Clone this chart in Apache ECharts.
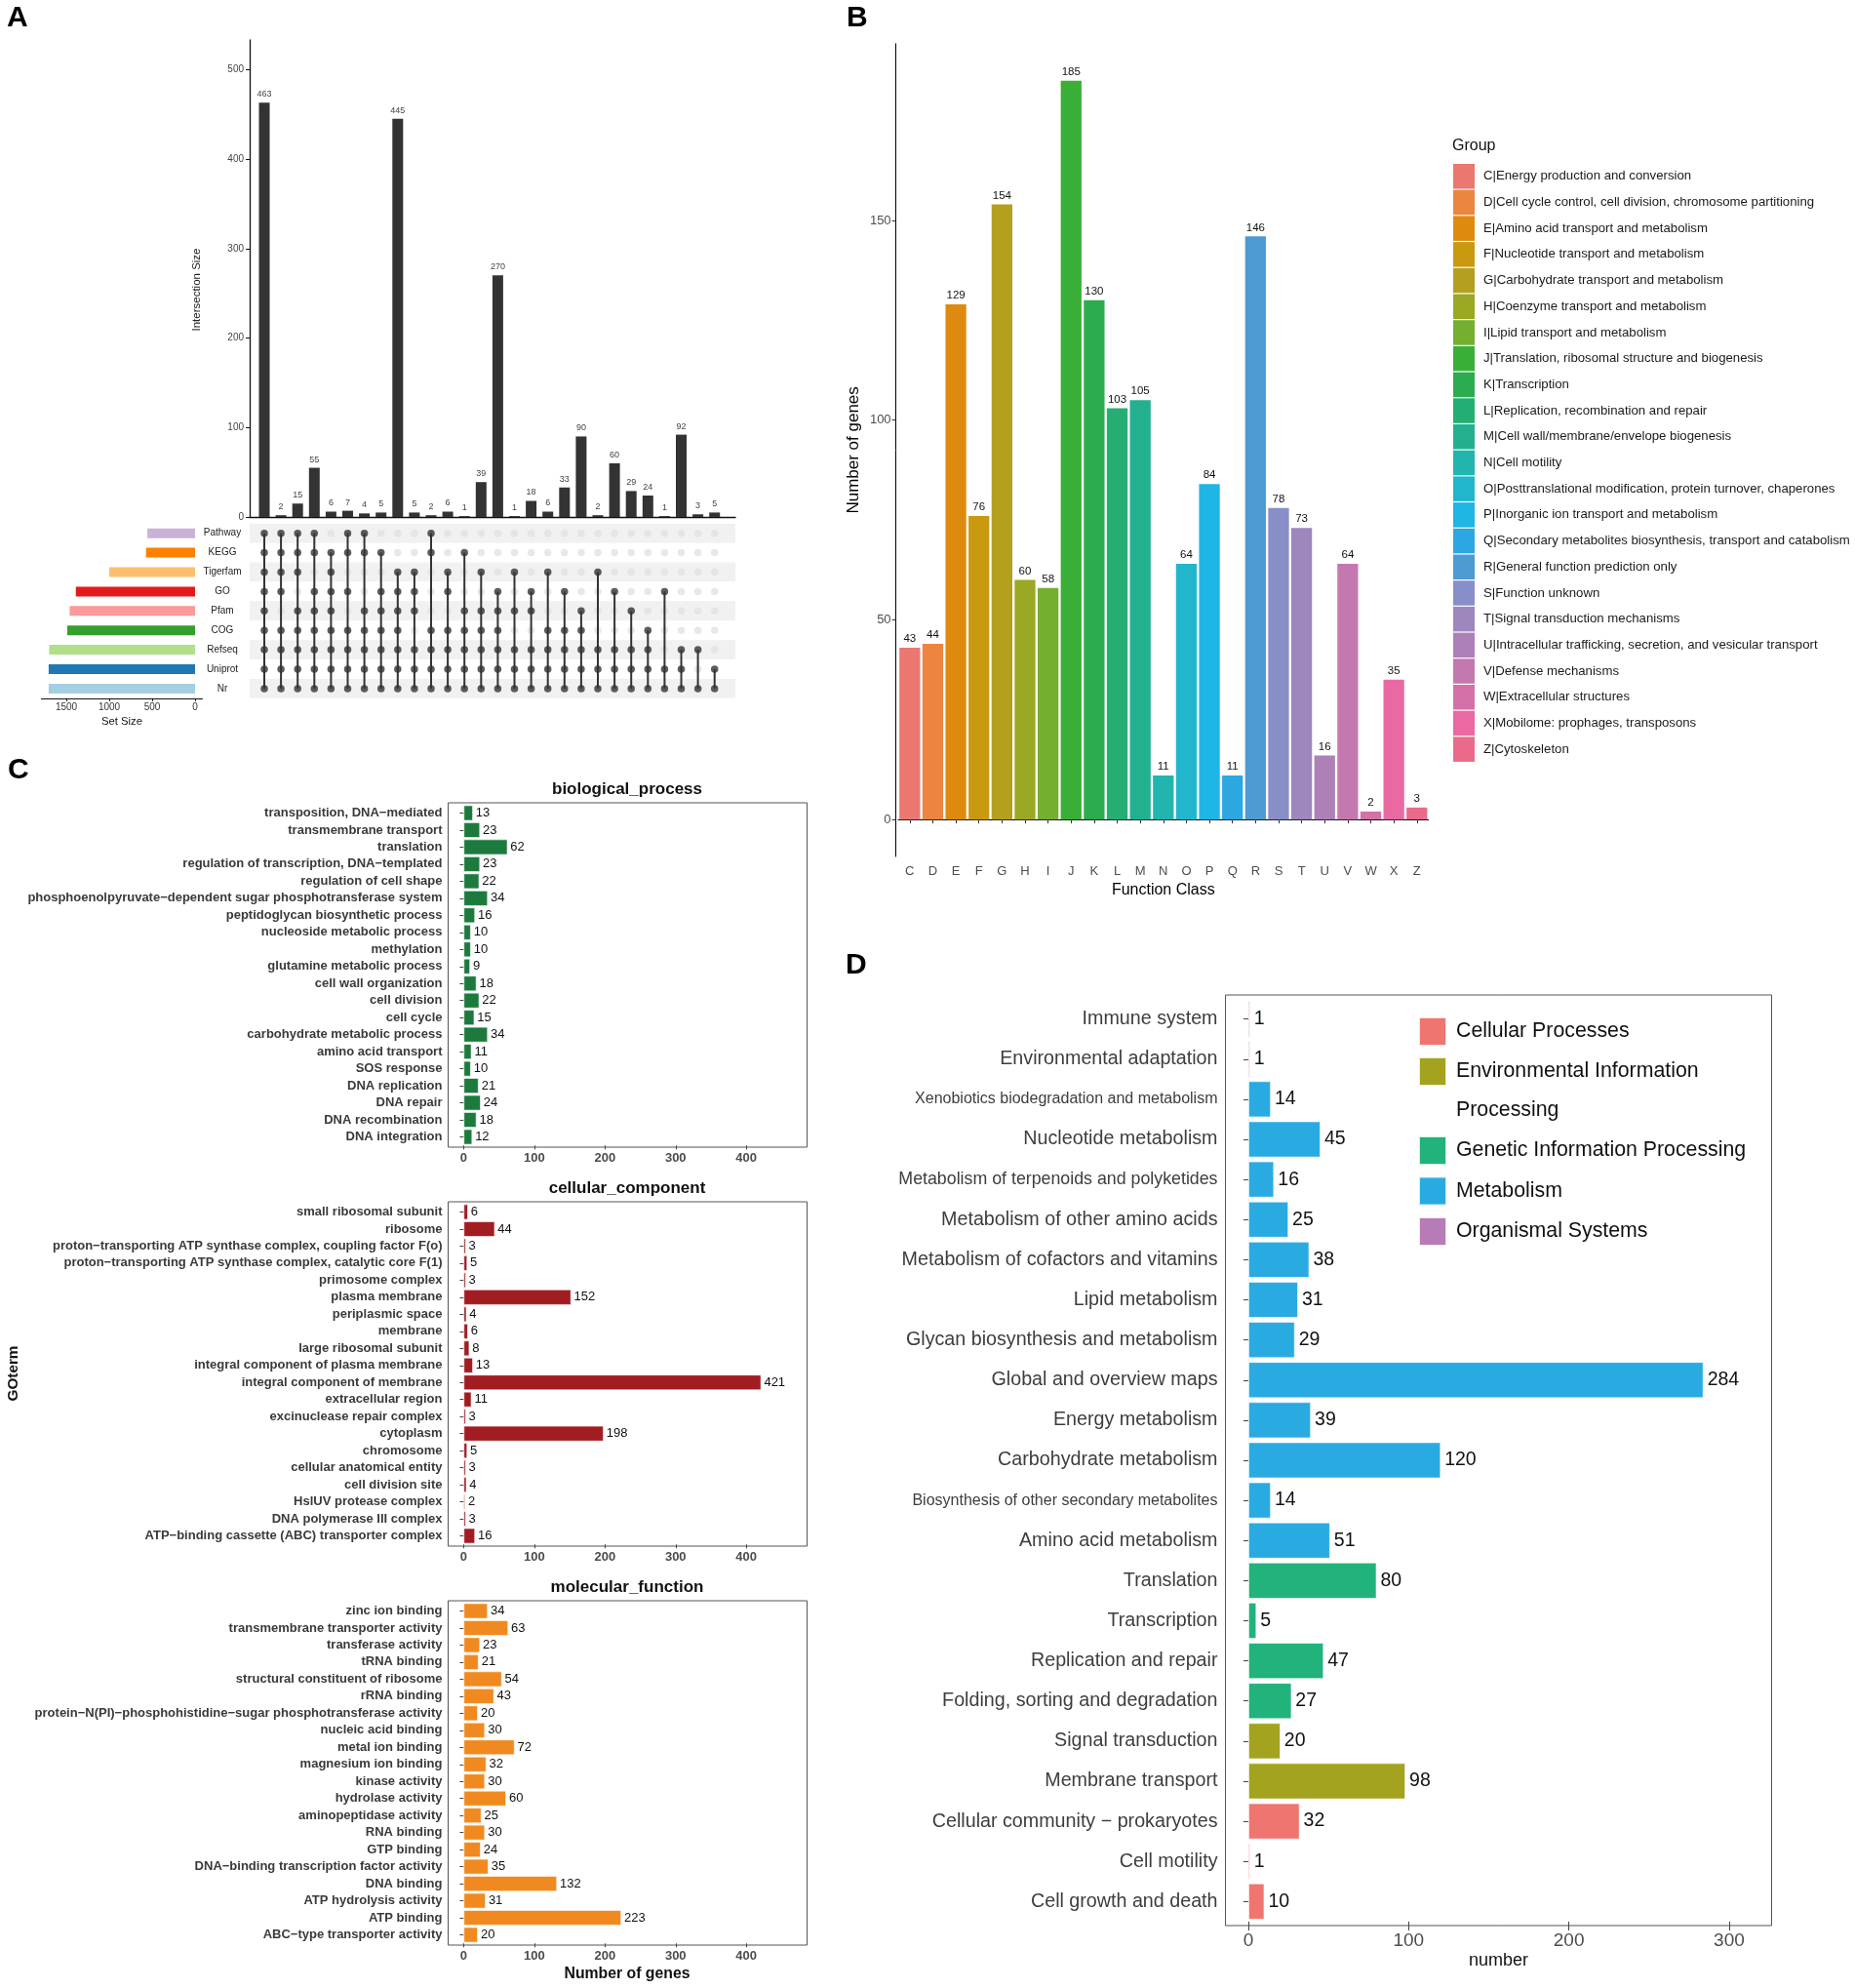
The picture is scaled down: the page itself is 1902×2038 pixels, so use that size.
<!DOCTYPE html>
<html><head><meta charset="utf-8">
<script src="https://cdn.jsdelivr.net/npm/echarts@6/dist/echarts.min.js"></script>
<style>html,body{margin:0;padding:0;background:#fff}#c{width:1902px;height:2038px}</style>
</head><body><div id="c"></div>
<script>
// ---------- Panel A data ----------
const setNames = ['Pathway','KEGG','Tigerfam','GO','Pfam','COG','Refseq','Uniprot','Nr'];
const setSizes = [556,572,1000,1389,1461,1489,1700,1706,1706];
const setTicks = [0,500,1000,1500];
const intersectionSizes = [463,2,15,55,6,7,4,5,445,5,2,6,1,39,270,1,18,6,33,90,2,60,29,24,1,92,3,5];
const intersectionTicks = [0,100,200,300,400,500];
const intersectionMembers = [
  ['Pathway','KEGG','Tigerfam','GO','Pfam','COG','Refseq','Uniprot','Nr'],
  ['Pathway','KEGG','Tigerfam','GO','COG','Refseq','Uniprot','Nr'],
  ['Pathway','KEGG','Tigerfam','Pfam','COG','Refseq','Uniprot','Nr'],
  ['Pathway','KEGG','GO','Pfam','COG','Refseq','Uniprot','Nr'],
  ['KEGG','Tigerfam','GO','Pfam','COG','Refseq','Uniprot','Nr'],
  ['Pathway','KEGG','GO','COG','Refseq','Uniprot','Nr'],
  ['Pathway','KEGG','Pfam','COG','Refseq','Uniprot','Nr'],
  ['KEGG','GO','Pfam','COG','Refseq','Uniprot','Nr'],
  ['Tigerfam','GO','Pfam','COG','Refseq','Uniprot','Nr'],
  ['Tigerfam','GO','Pfam','Refseq','Uniprot','Nr'],
  ['Pathway','KEGG','COG','Refseq','Uniprot','Nr'],
  ['Tigerfam','GO','COG','Refseq','Uniprot','Nr'],
  ['KEGG','Pfam','COG','Refseq','Uniprot','Nr'],
  ['Tigerfam','Pfam','COG','Refseq','Uniprot','Nr'],
  ['GO','Pfam','COG','Refseq','Uniprot','Nr'],
  ['Tigerfam','Pfam','Refseq','Uniprot','Nr'],
  ['GO','Pfam','Refseq','Uniprot','Nr'],
  ['Tigerfam','COG','Refseq','Uniprot','Nr'],
  ['GO','COG','Refseq','Uniprot','Nr'],
  ['Pfam','COG','Refseq','Uniprot','Nr'],
  ['Tigerfam','Refseq','Uniprot','Nr'],
  ['GO','Refseq','Uniprot','Nr'],
  ['Pfam','Refseq','Uniprot','Nr'],
  ['COG','Refseq','Uniprot','Nr'],
  ['GO','Uniprot','Nr'],
  ['Refseq','Uniprot','Nr'],
  ['Refseq','Nr'],
  ['Uniprot','Nr']
];

// ---------- Panel B data ----------
const cogCodes = ['C','D','E','F','G','H','I','J','K','L','M','N','O','P','Q','R','S','T','U','V','W','X','Z'];
const cogCounts = [43,44,129,76,154,60,58,185,130,103,105,11,64,84,11,146,78,73,16,64,2,35,3];
const cogNames = [
  'C|Energy production and conversion',
  'D|Cell cycle control, cell division, chromosome partitioning',
  'E|Amino acid transport and metabolism',
  'F|Nucleotide transport and metabolism',
  'G|Carbohydrate transport and metabolism',
  'H|Coenzyme transport and metabolism',
  'I|Lipid transport and metabolism',
  'J|Translation, ribosomal structure and biogenesis',
  'K|Transcription',
  'L|Replication, recombination and repair',
  'M|Cell wall/membrane/envelope biogenesis',
  'N|Cell motility',
  'O|Posttranslational modification, protein turnover, chaperones',
  'P|Inorganic ion transport and metabolism',
  'Q|Secondary metabolites biosynthesis, transport and catabolism',
  'R|General function prediction only',
  'S|Function unknown',
  'T|Signal transduction mechanisms',
  'U|Intracellular trafficking, secretion, and vesicular transport',
  'V|Defense mechanisms',
  'W|Extracellular structures',
  'X|Mobilome: prophages, transposons',
  'Z|Cytoskeleton'
];
const cogTicks = [0,50,100,150];

// ---------- Panel C data ----------
const bpTerms = ['transposition, DNA\u2212mediated','transmembrane transport','translation','regulation of transcription, DNA\u2212templated','regulation of cell shape','phosphoenolpyruvate\u2212dependent sugar phosphotransferase system','peptidoglycan biosynthetic process','nucleoside metabolic process','methylation','glutamine metabolic process','cell wall organization','cell division','cell cycle','carbohydrate metabolic process','amino acid transport','SOS response','DNA replication','DNA repair','DNA recombination','DNA integration'];
const bpCounts = [13,23,62,23,22,34,16,10,10,9,18,22,15,34,11,10,21,24,18,12];
const ccTerms = ['small ribosomal subunit','ribosome','proton\u2212transporting ATP synthase complex, coupling factor F(o)','proton\u2212transporting ATP synthase complex, catalytic core F(1)','primosome complex','plasma membrane','periplasmic space','membrane','large ribosomal subunit','integral component of plasma membrane','integral component of membrane','extracellular region','excinuclease repair complex','cytoplasm','chromosome','cellular anatomical entity','cell division site','HslUV protease complex','DNA polymerase III complex','ATP\u2212binding cassette (ABC) transporter complex'];
const ccCounts = [6,44,3,5,3,152,4,6,8,13,421,11,3,198,5,3,4,2,3,16];
const mfTerms = ['zinc ion binding','transmembrane transporter activity','transferase activity','tRNA binding','structural constituent of ribosome','rRNA binding','protein\u2212N(PI)\u2212phosphohistidine\u2212sugar phosphotransferase activity','nucleic acid binding','metal ion binding','magnesium ion binding','kinase activity','hydrolase activity','aminopeptidase activity','RNA binding','GTP binding','DNA\u2212binding transcription factor activity','DNA binding','ATP hydrolysis activity','ATP binding','ABC\u2212type transporter activity'];
const mfCounts = [34,63,23,21,54,43,20,30,72,32,30,60,25,30,24,35,132,31,223,20];
const goTicks = [0,100,200,300,400];

// ---------- Panel D data ----------
const keggTerms = ['Immune system','Environmental adaptation','Xenobiotics biodegradation and metabolism','Nucleotide metabolism','Metabolism of terpenoids and polyketides','Metabolism of other amino acids','Metabolism of cofactors and vitamins','Lipid metabolism','Glycan biosynthesis and metabolism','Global and overview maps','Energy metabolism','Carbohydrate metabolism','Biosynthesis of other secondary metabolites','Amino acid metabolism','Translation','Transcription','Replication and repair','Folding, sorting and degradation','Signal transduction','Membrane transport','Cellular community \u2212 prokaryotes','Cell motility','Cell growth and death'];
const keggCounts = [1,1,14,45,16,25,38,31,29,284,39,120,14,51,80,5,47,27,20,98,32,1,10];
const keggGroupOf = ['Organismal Systems','Organismal Systems','Metabolism','Metabolism','Metabolism','Metabolism','Metabolism','Metabolism','Metabolism','Metabolism','Metabolism','Metabolism','Metabolism','Metabolism','Genetic Information Processing','Genetic Information Processing','Genetic Information Processing','Genetic Information Processing','Environmental Information Processing','Environmental Information Processing','Cellular Processes','Cellular Processes','Cellular Processes'];
const keggGroups = ['Cellular Processes','Environmental Information Processing','Genetic Information Processing','Metabolism','Organismal Systems'];
const keggTicks = [0,100,200,300];

// ---------- styles ----------
const FONT = '"Liberation Sans", Arial, Helvetica, sans-serif';
const setColors = ['#cab2d6','#ff7f00','#fdbf6f','#e31a1c','#fb9a99','#33a02c','#b2df8a','#1f78b4','#a6cee3'];
const cogColors = ['#ec7770','#ec8540','#de8a0e','#c99a10','#b3a01f','#9aa823','#74af30','#3aaf38','#2dab4f','#25ae73','#22b08e','#21b5ae','#22b6cc','#1fb5e5','#2da7e1','#4e9ad3','#888ec8','#9e86be','#ad80b8','#c378b0','#d571a8','#ea69a3','#e96b89'];
const keggColors = ['#ef7570','#a3a31f','#22b27b','#29abe2','#b77bb5'];

const chart = echarts.init(document.getElementById('c'), null, {renderer:'canvas', width:1902, height:2038});

const noSplit = {show:false};
const series = [];

// Panel A: intersection bars
series.push({
  type:'bar', xAxisIndex:0, yAxisIndex:0, barWidth:11,
  data: intersectionSizes.map((v,i)=>[i+1,v]),
  itemStyle:{color:'#333333'},
  label:{show:true, position:'top', distance:4, fontSize:9, color:'#444', fontFamily:FONT, formatter:p=>p.value[1]}
});
const greyDots = [], darkDots = [], segs = [];
intersectionMembers.forEach((m,i)=>{
  const idx = m.map(s=>setNames.indexOf(s));
  setNames.forEach((s,j)=>{ if(idx.indexOf(j)<0) greyDots.push([i+1,j]); else darkDots.push([i+1,j]); });
  segs.push([i+1, Math.min.apply(null,idx), Math.max.apply(null,idx)]);
});
series.push({type:'scatter', xAxisIndex:1, yAxisIndex:1, data:greyDots, symbolSize:7.5, itemStyle:{color:'#e2e2e2'}, z:2});
series.push({
  type:'custom', xAxisIndex:1, yAxisIndex:1, data:segs, z:3,
  encode:{x:0, y:[1,2]},
  renderItem:function(params, api){
    const c = api.value(0), a = api.value(1), b = api.value(2);
    const p1 = api.coord([c,a]), p2 = api.coord([c,b]);
    return {type:'line', shape:{x1:p1[0],y1:p1[1],x2:p2[0],y2:p2[1]}, style:{stroke:'#333', lineWidth:2}};
  }
});
series.push({type:'scatter', xAxisIndex:1, yAxisIndex:1, data:darkDots, symbolSize:7.5, itemStyle:{color:'#333333'}, z:4});
series.push({
  type:'bar', xAxisIndex:2, yAxisIndex:2, barWidth:10,
  data: setSizes.map((v,i)=>({value:v, itemStyle:{color:setColors[i]}}))
});

// Panel B
cogCodes.forEach((c,i)=>{
  series.push({
    type:'bar', name:cogNames[i], stack:'cog', xAxisIndex:3, yAxisIndex:3, barWidth:'90%',
    data: cogCounts.map((v,j)=> j===i ? v : '-'),
    itemStyle:{color:cogColors[i]},
    label:{show:true, position:'top', distance:3, fontSize:11.5, color:'#111', fontFamily:FONT}
  });
});

// Panel C
[[bpCounts,'#1d7a3d',4],[ccCounts,'#a11d22',5],[mfCounts,'#f08a20',6]].forEach(d=>{
  series.push({
    type:'bar', xAxisIndex:d[2], yAxisIndex:d[2], barWidth:'90%',
    data:d[0], itemStyle:{color:d[1], borderColor:'#ffffff', borderWidth:0.6},
    label:{show:true, position:'right', distance:3, fontSize:13, color:'#111', fontFamily:FONT}
  });
});

// Panel D
keggGroups.forEach((g,gi)=>{
  series.push({
    type:'bar', name:g, stack:'kegg', xAxisIndex:7, yAxisIndex:7, barWidth:'90%',
    data: keggCounts.map((v,j)=> keggGroupOf[j]===g ? v : '-'),
    itemStyle:{color:keggColors[gi], borderColor:'rgba(255,255,255,0.8)', borderWidth:0.8},
    label:{show:true, position:'right', distance:4, fontSize:19.5, color:'#111', fontFamily:FONT}
  });
});

const C_LEFT = 459.5, C_W = 368, C_H = 353, C_TOPS = [823,1232,1641], C_INSET = 1.75;
const D_LEFT = 1256.5, D_W = 560, D_TOP = 1020, D_H = 954, D_INSET = 4.1;

const goX = (gi)=>({
  gridIndex:gi, type:'value', min:-22, max:486,
  axisLine:{show:false},
  axisTick:{show:true, length:4, customValues:goTicks, lineStyle:{color:'#444'}},
  axisLabel:{customValues:goTicks, fontSize:13, fontWeight:'bold', color:'#4d4d4d', margin:5 + C_INSET, fontFamily:FONT},
  splitLine:noSplit
});
const goY = (gi, terms)=>({
  gridIndex:gi, type:'category', data:terms, inverse:true,
  axisLine:{show:false},
  axisTick:{show:true, length:4, alignWithLabel:true, lineStyle:{color:'#444'}},
  axisLabel:{fontSize:13, fontWeight:'bold', color:'#3a3a3a', margin:6, fontFamily:FONT, interval:0}
});
const boxGrid = (l,t,w,h)=>({left:l, top:t, width:w, height:h, show:true, borderColor:'#555', borderWidth:1, backgroundColor:'transparent'});

const option = {
  animation:false,
  backgroundColor:'#ffffff',
  textStyle:{fontFamily:FONT},
  grid:[
    {left:256, top:41, width:498, height:489},
    {left:256, top:536.75, width:498, height:179.1},
    {left:42.4, top:536.75, width:165.1, height:179.1},
    {left:921, top:44.8, width:543.6, height:833.2},
    {left:C_LEFT, top:C_TOPS[0]+C_INSET, width:C_W, height:C_H-2*C_INSET},
    {left:C_LEFT, top:C_TOPS[1]+C_INSET, width:C_W, height:C_H-2*C_INSET},
    {left:C_LEFT, top:C_TOPS[2]+C_INSET, width:C_W, height:C_H-2*C_INSET},
    {left:D_LEFT, top:D_TOP+D_INSET, width:D_W, height:D_H-2*D_INSET},
    boxGrid(C_LEFT, C_TOPS[0], C_W, C_H),
    boxGrid(C_LEFT, C_TOPS[1], C_W, C_H),
    boxGrid(C_LEFT, C_TOPS[2], C_W, C_H),
    boxGrid(D_LEFT, D_TOP, D_W, D_H)
  ],
  xAxis:[
    {gridIndex:0, type:'value', min:0.123, max:29.245, axisLine:{show:true, onZero:false, lineStyle:{color:'#111', width:1.4}}, axisTick:{show:false}, axisLabel:{show:false}, splitLine:noSplit},
    {gridIndex:1, type:'value', min:0.123, max:29.245, show:false, splitLine:noSplit},
    {gridIndex:2, type:'value', inverse:true, min:-85, max:1791,
      axisLine:{show:true, onZero:false, lineStyle:{color:'#111'}},
      axisTick:{show:true, length:3, customValues:setTicks, lineStyle:{color:'#111'}},
      axisLabel:{customValues:setTicks, fontSize:10, color:'#333', margin:4, fontFamily:FONT, formatter:v=>String(v)},
      name:'Set Size', nameLocation:'middle', nameGap:19, nameTextStyle:{fontSize:11.3, color:'#111', fontFamily:FONT},
      splitLine:noSplit},
    {gridIndex:3, type:'category', data:cogCodes,
      axisLine:{show:true, lineStyle:{color:'#000'}},
      axisTick:{show:true, alignWithLabel:true, length:4, lineStyle:{color:'#333'}},
      axisLabel:{fontSize:13, color:'#4d4d4d', margin:8.5, fontFamily:FONT, interval:0},
      name:'Function Class', nameLocation:'middle', nameGap:27, nameTextStyle:{fontSize:16, color:'#000', fontFamily:FONT}},
    goX(4), goX(5), goX(6),
    {gridIndex:7, type:'value', min:-14.3, max:326.5,
      axisLine:{show:false},
      axisTick:{show:true, length:5 + D_INSET, customValues:keggTicks, lineStyle:{color:'#444'}},
      axisLabel:{customValues:keggTicks, fontSize:19, color:'#4d4d4d', margin:6 + D_INSET, fontFamily:FONT},
      name:'number', nameLocation:'middle', nameGap:27 + D_INSET, nameTextStyle:{fontSize:18, color:'#111', fontFamily:FONT},
      splitLine:noSplit},
    {gridIndex:8, type:'value', show:false, splitLine:noSplit},
    {gridIndex:9, type:'value', show:false, splitLine:noSplit},
    {gridIndex:10, type:'value', show:false, splitLine:noSplit},
    {gridIndex:11, type:'value', show:false, splitLine:noSplit}
  ],
  yAxis:[
    {gridIndex:0, type:'value', min:0, max:533,
      axisLine:{show:true, lineStyle:{color:'#111', width:1.3}},
      axisTick:{show:true, length:4, customValues:intersectionTicks, lineStyle:{color:'#111'}},
      axisLabel:{customValues:intersectionTicks, fontSize:10, color:'#444', margin:6, fontFamily:FONT},
      splitLine:noSplit},
    {gridIndex:1, type:'category', data:setNames, inverse:true,
      axisLine:{show:false}, axisTick:{show:false},
      axisLabel:{fontSize:10, color:'#222', align:'center', margin:28, fontFamily:FONT},
      splitArea:{show:true, areaStyle:{color:['#f1f1f1','#ffffff']}}},
    {gridIndex:2, type:'category', data:setNames, inverse:true, show:false},
    {gridIndex:3, type:'value', min:-9.25, max:194.25, offset:2.4,
      axisLine:{show:true, lineStyle:{color:'#000'}},
      axisTick:{show:true, length:4, customValues:cogTicks, lineStyle:{color:'#333'}},
      axisLabel:{customValues:cogTicks, fontSize:13, color:'#4d4d4d', margin:5, fontFamily:FONT},
      name:'Number of genes', nameLocation:'middle', nameGap:35, nameTextStyle:{fontSize:17, color:'#000', fontFamily:FONT},
      splitLine:noSplit},
    goY(4, bpTerms), goY(5, ccTerms), goY(6, mfTerms),
    {gridIndex:7, type:'category', data:keggTerms, inverse:true,
      axisLine:{show:false},
      axisTick:{show:true, length:5, alignWithLabel:true, lineStyle:{color:'#444'}},
      axisLabel:{fontSize:19.7, color:'#3d3d3d', margin:8, fontFamily:FONT, interval:0,
        formatter:function(v){
          if (v==='Xenobiotics biodegradation and metabolism' || v==='Biosynthesis of other secondary metabolites') return '{s|'+v+'}';
          if (v==='Metabolism of terpenoids and polyketides') return '{m|'+v+'}';
          return v;
        },
        rich:{s:{fontSize:16, color:'#3d3d3d', fontFamily:FONT}, m:{fontSize:17.8, color:'#3d3d3d', fontFamily:FONT}}}},
    {gridIndex:8, type:'value', show:false, splitLine:noSplit},
    {gridIndex:9, type:'value', show:false, splitLine:noSplit},
    {gridIndex:10, type:'value', show:false, splitLine:noSplit},
    {gridIndex:11, type:'value', show:false, splitLine:noSplit}
  ],
  legend:[
    {data:cogNames, orient:'vertical', left:1490, top:168, padding:0, itemWidth:22, itemHeight:25.5, itemGap:1.2, icon:'rect', selectedMode:false,
      textStyle:{fontSize:13.2, color:'#1a1a1a', padding:[0,0,0,4], fontFamily:FONT}},
    {data:['Cellular Processes'], orient:'vertical', left:1454, top:1042, padding:0, itemWidth:28, itemHeight:29, icon:'rect', selectedMode:false,
      textStyle:{fontSize:21.3, lineHeight:29, color:'#111', padding:[0,0,0,5], fontFamily:FONT}},
    {data:['Environmental Information Processing'], orient:'vertical', left:1454, top:1083, padding:0, itemWidth:28, itemHeight:29, icon:'rect', selectedMode:false,
      formatter:function(){ return '{a|Environmental Information}\n{b|Processing}'; },
      textStyle:{fontSize:21.3, color:'#111', padding:[0,0,0,5], fontFamily:FONT,
        rich:{a:{fontSize:21.3, lineHeight:80, color:'#111', fontFamily:FONT}, b:{fontSize:21.3, lineHeight:1, color:'#111', fontFamily:FONT}}}},
    {data:['Genetic Information Processing','Metabolism','Organismal Systems'], orient:'vertical', left:1454, top:1164, padding:0, itemWidth:28, itemHeight:29, itemGap:10.5, icon:'rect', selectedMode:false,
      textStyle:{fontSize:21.3, lineHeight:29, color:'#111', padding:[0,0,0,5], fontFamily:FONT}}
  ],
  graphic:[
    {type:'text', x:7, y:19, style:{text:'A', fontSize:30, fontWeight:'bold', fontFamily:FONT, fill:'#000', verticalAlign:'middle'}},
    {type:'text', x:868, y:19, style:{text:'B', fontSize:30, fontWeight:'bold', fontFamily:FONT, fill:'#000', verticalAlign:'middle'}},
    {type:'text', x:8, y:790, style:{text:'C', fontSize:30, fontWeight:'bold', fontFamily:FONT, fill:'#000', verticalAlign:'middle'}},
    {type:'text', x:867, y:990, style:{text:'D', fontSize:30, fontWeight:'bold', fontFamily:FONT, fill:'#000', verticalAlign:'middle'}},
    {type:'text', x:202, y:297, rotation:Math.PI/2, style:{text:'Intersection Size', fontSize:11.5, fontFamily:FONT, fill:'#222', align:'center', verticalAlign:'middle'}},
    {type:'text', x:643, y:809, style:{text:'biological_process', fontSize:17, fontWeight:'bold', fontFamily:FONT, fill:'#111', align:'center', verticalAlign:'middle'}},
    {type:'text', x:643, y:1218, style:{text:'cellular_component', fontSize:17, fontWeight:'bold', fontFamily:FONT, fill:'#111', align:'center', verticalAlign:'middle'}},
    {type:'text', x:643, y:1627, style:{text:'molecular_function', fontSize:17, fontWeight:'bold', fontFamily:FONT, fill:'#111', align:'center', verticalAlign:'middle'}},
    {type:'text', x:14, y:1408, rotation:Math.PI/2, style:{text:'GOterm', fontSize:15.3, fontWeight:'bold', fontFamily:FONT, fill:'#111', align:'center', verticalAlign:'middle'}},
    {type:'text', x:643, y:2024, style:{text:'Number of genes', fontSize:15.8, fontWeight:'bold', fontFamily:FONT, fill:'#111', align:'center', verticalAlign:'middle'}},
    {type:'text', x:1489, y:150, style:{text:'Group', fontSize:16, fontFamily:FONT, fill:'#111', verticalAlign:'middle'}}
  ],
  series:series
};
chart.setOption(option);
</script>
</body></html>
